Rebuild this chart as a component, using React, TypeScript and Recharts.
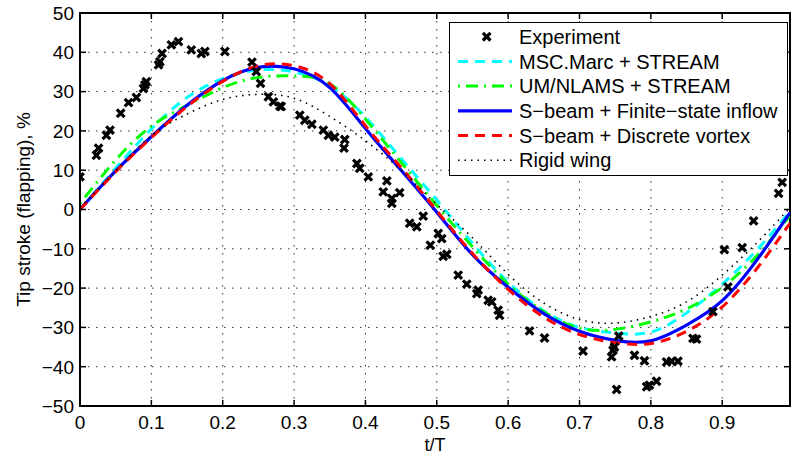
import React from 'react';
import {
  ComposedChart,
  Line,
  Scatter,
  XAxis,
  YAxis,
  CartesianGrid,
  ReferenceArea
} from 'recharts';

const FONT = '"Liberation Sans", Arial, Helvetica, sans-serif';

// plot frame
const WIDTH = 791;
const HEIGHT = 458;
const PLOT_TOP = 13;
const PLOT_LEFT = 80;
const PLOT_RIGHT = 790;
const PLOT_BOTTOM = 406;

const xTicks = [0, 0.1, 0.2, 0.3, 0.4, 0.5, 0.6, 0.7, 0.8, 0.9];
const xTickLabels = ['0', '0.1', '0.2', '0.3', '0.4', '0.5', '0.6', '0.7', '0.8', '0.9'];
const yTicks = [-50, -40, -30, -20, -10, 0, 10, 20, 30, 40, 50];
const yTickLabels = ['\u221250', '\u221240', '\u221230', '\u221220', '\u221210', '0', '10', '20', '30', '40', '50'];

// experiment points
const expT = [
  0.0, 0.023, 0.026, 0.037, 0.042, 0.057, 0.068, 0.079, 0.089, 0.091, 0.093,
  0.11, 0.112, 0.115, 0.128, 0.138, 0.156, 0.17, 0.175, 0.203, 0.241, 0.247,
  0.253, 0.264, 0.271, 0.28, 0.282, 0.308, 0.315, 0.325, 0.341, 0.348, 0.357,
  0.371, 0.37, 0.388, 0.392, 0.404, 0.43, 0.425, 0.437, 0.437, 0.448, 0.462,
  0.472, 0.481, 0.491, 0.502, 0.507, 0.509, 0.514, 0.53, 0.542, 0.556, 0.558,
  0.572, 0.577, 0.586, 0.588, 0.63, 0.651, 0.705, 0.745, 0.747, 0.749, 0.752,
  0.755, 0.777, 0.791, 0.794, 0.798, 0.808, 0.822, 0.829, 0.838, 0.859, 0.864,
  0.887, 0.903, 0.908, 0.928, 0.944, 0.979, 0.984
];
const expV = [
  8.3, 13.8, 15.6, 18.9, 20.2, 24.5, 27.2, 28.5, 30.8, 31.7, 32.5,
  36.8, 37.6, 39.7, 41.9, 42.7, 40.6, 39.7, 40.2, 40.2, 37.5, 35.1,
  32.1, 28.7, 27.4, 26.3, 26.2, 24.0, 22.7, 21.7, 20.2, 18.9, 18.4,
  17.8, 15.6, 11.7, 10.5, 8.3, 7.3, 4.5, 2.8, 1.6, 4.3, -3.5,
  -4.4, -1.7, -9.1, -6.1, -7.4, -11.9, -11.4, -16.7, -19.0, -21.4, -20.5,
  -23.1, -23.5, -25.6, -26.9, -30.9, -32.7, -36.0, -37.5, -35.8, -35.0, -45.8,
  -32.2, -37.1, -38.5, -45.1, -44.7, -43.7, -38.8, -38.6, -38.6, -32.8, -33.0,
  -26.0, -10.2, -19.7, -9.7, -2.9, 4.1, 6.9
];

// model curves, sampled on a common t grid
const modelT = [0, 0.05, 0.1, 0.15, 0.2, 0.25, 0.3, 0.35, 0.4, 0.45, 0.5, 0.55, 0.6, 0.65, 0.7, 0.75, 0.8, 0.85, 0.9, 0.95, 0.995];
const marcV = [0, 10.5, 20.5, 28.5, 33.3, 35.5, 35, 31.5, 23.5, 13, 2.4, -8.6, -18.5, -25.8, -30, -31.4, -31.2, -26.3, -19, -10, -0.5];
const nlamsV = [1.5, 12.6, 21.2, 26.5, 31, 33.6, 34, 32, 23, 12, 1, -9.5, -19, -26, -30.2, -30.5, -28.6, -25.3, -19.8, -11.5, -1.5];
const finiteV = [0, 9.8, 18.5, 26.5, 32.8, 36.2, 35.8, 31, 20.6, 10, -0.7, -11.5, -19.8, -26.5, -31, -33.3, -33.4, -29.4, -23.2, -12.5, -0.8];
const vortexV = [0, 9.6, 18.3, 26.2, 32.6, 36.6, 36.6, 32, 21.3, 10.7, -0.3, -11.2, -20.3, -27.4, -31.8, -33.9, -34.1, -31, -24.8, -14.7, -3.5];
const rigidV = [0.5, 9.8, 18.8, 24.3, 28, 29.3, 28.3, 23.7, 17.5, 10, 1.3, -7.2, -16.5, -23.8, -28, -28.9, -27.2, -23.5, -16.7, -8.2, 0.5];

const expName = 'Experiment';
const seriesNames = [
  'MSC.Marc + STREAM',
  'UM/NLAMS + STREAM',
  'S\u2212beam + Finite\u2212state inflow',
  'S\u2212beam + Discrete vortex',
  'Rigid wing'
];

const toPoints = (ts: number[], vs: number[]) => ts.map((t, i) => ({ t, v: vs[i] }));

const expData = toPoints(expT, expV);

const models = [
  { name: seriesNames[0], data: toPoints(modelT, marcV), color: '#00FFFF', dash: '10 7', width: 3 },
  { name: seriesNames[1], data: toPoints(modelT, nlamsV), color: '#00FF00', dash: '2 6 12 6', width: 3 },
  { name: seriesNames[2], data: toPoints(modelT, finiteV), color: '#0000FF', dash: undefined, width: 3.2 },
  { name: seriesNames[3], data: toPoints(modelT, vortexV), color: '#FF0000', dash: '10 7', width: 3 },
  { name: seriesNames[4], data: toPoints(modelT, rigidV), color: '#000000', dash: '1.5 5', width: 1.6 }
];

const XMark = (props: any) => {
  const { cx, cy } = props;
  const s = 3.8;
  return (
    <path
      d={`M${cx - s},${cy - s}L${cx + s},${cy + s}M${cx + s},${cy - s}L${cx - s},${cy + s}`}
      stroke="#000"
      strokeWidth={3.2}
    />
  );
};

const XTick = (props: any) => {
  const { x, payload } = props;
  const i = xTicks.indexOf(payload.value);
  return (
    <g>
      <line x1={x} x2={x} y1={PLOT_BOTTOM} y2={PLOT_BOTTOM - 6} stroke="#000" strokeWidth={1.5} />
      <line x1={x} x2={x} y1={PLOT_TOP} y2={PLOT_TOP + 6} stroke="#000" strokeWidth={1.5} />
      <text x={x} y={PLOT_BOTTOM + 23} textAnchor="middle" fontSize={19} fontFamily={FONT} fill="#000">
        {xTickLabels[i]}
      </text>
    </g>
  );
};

const YTick = (props: any) => {
  const { y, payload } = props;
  const i = yTicks.indexOf(payload.value);
  return (
    <g>
      <line x1={PLOT_LEFT} x2={PLOT_LEFT + 6} y1={y} y2={y} stroke="#000" strokeWidth={1.5} />
      <line x1={PLOT_RIGHT} x2={PLOT_RIGHT - 6} y1={y} y2={y} stroke="#000" strokeWidth={1.5} />
      <text x={PLOT_LEFT - 6} y={y} dy="0.36em" textAnchor="end" fontSize={19} fontFamily={FONT} fill="#000">
        {yTickLabels[i]}
      </text>
    </g>
  );
};

const YLabel = (props: any) => {
  const { viewBox } = props;
  const cx = viewBox.x + 23;
  const cy = viewBox.y + viewBox.height / 2;
  return (
    <text
      x={cx}
      y={cy}
      transform={`rotate(-90 ${cx} ${cy})`}
      textAnchor="middle"
      dominantBaseline="central"
      fontSize={19}
      fontFamily={FONT}
      fill="#000"
    >
      Tip stroke (flapping), %
    </text>
  );
};

const XLabel = (props: any) => {
  const { viewBox } = props;
  return (
    <text
      x={viewBox.x + viewBox.width / 2}
      y={PLOT_BOTTOM + 45}
      textAnchor="middle"
      fontSize={18}
      fontFamily={FONT}
      fill="#000"
    >
      t/T
    </text>
  );
};

function LegendBox() {
  const rowH = 24.7;
  const first = 14.7;
  return (
    <div
      style={{
        position: 'absolute',
        left: 449,
        top: 22,
        width: 339,
        height: 154,
        background: '#fff',
        border: '1px solid #000',
        boxSizing: 'border-box'
      }}
    >
      <svg width={339} height={154} style={{ display: 'block', position: 'absolute', left: -1, top: -1 }}>
        <XMark cx={37.7} cy={first} />
        <text x={70} y={first} dy="0.36em" fontSize={20} fontFamily={FONT} fill="#000">
          {expName}
        </text>
        {models.map((m, i) => {
          const y = first + rowH * (i + 1);
          return (
            <g key={m.name}>
              <line
                x1={9}
                x2={63}
                y1={y}
                y2={y}
                stroke={m.color}
                strokeWidth={m.width}
                strokeDasharray={m.dash}
              />
              <text x={70} y={y} dy="0.36em" fontSize={20} fontFamily={FONT} fill="#000">
                {m.name}
              </text>
            </g>
          );
        })}
      </svg>
    </div>
  );
}

export default function App() {
  return (
    <div style={{ position: 'relative', width: WIDTH, height: HEIGHT, background: '#fff' }}>
      <style>{'body{margin:0;background:#fff}'}</style>
      <ComposedChart
        width={WIDTH}
        height={HEIGHT}
        margin={{ top: PLOT_TOP, right: WIDTH - PLOT_RIGHT, bottom: 0, left: 0 }}
      >
        <CartesianGrid stroke="#333" strokeWidth={1} strokeDasharray="1.5 6.5" />
        <XAxis
          dataKey="t"
          type="number"
          domain={[0, 0.995]}
          allowDataOverflow
          ticks={xTicks}
          interval={0}
          height={HEIGHT - PLOT_BOTTOM}
          tickLine={false}
          tickSize={0}
          axisLine={{ stroke: '#000', strokeWidth: 2 }}
          tick={<XTick />}
          label={<XLabel />}
        />
        <YAxis
          type="number"
          domain={[-50, 50]}
          allowDataOverflow
          ticks={yTicks}
          interval={0}
          width={PLOT_LEFT}
          tickLine={false}
          tickSize={0}
          axisLine={{ stroke: '#000', strokeWidth: 2 }}
          tick={<YTick />}
          label={<YLabel />}
        />
        <Scatter
          data={expData}
          dataKey="v"
          name={expName}
          shape={<XMark />}
          isAnimationActive={false}
        />
        {models.map((m) => (
          <Line
            key={m.name}
            data={m.data}
            dataKey="v"
            name={m.name}
            type="natural"
            stroke={m.color}
            strokeWidth={m.width}
            strokeDasharray={m.dash}
            dot={false}
            activeDot={false}
            isAnimationActive={false}
          />
        ))}
        <ReferenceArea
          x1={0}
          x2={0.995}
          y1={-50}
          y2={50}
          fill="none"
          stroke="#000"
          strokeWidth={2}
          ifOverflow="visible"
        />
      </ComposedChart>
      <LegendBox />
    </div>
  );
}
